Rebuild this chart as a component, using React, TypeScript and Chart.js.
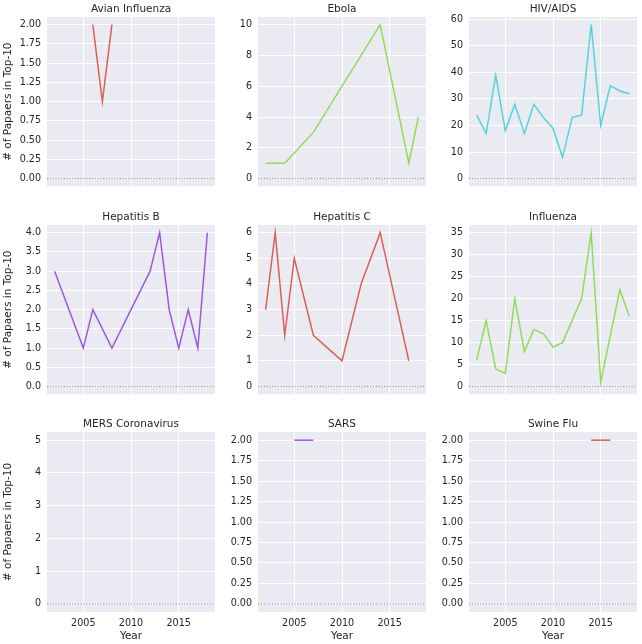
import React, { useEffect, useRef } from "react";
import { Chart, registerables } from "chart.js";
Chart.register(...registerables);

const avianYears = [2006, 2007, 2008];
const avianPapers = [2, 1, 2];
const ebolaYears = [2002, 2004, 2007, 2014, 2017, 2018];
const ebolaPapers = [1, 1, 3, 10, 1, 4];
const hivYears = [2002, 2003, 2004, 2005, 2006, 2007, 2008, 2009, 2010, 2011, 2012, 2013, 2014, 2015, 2016, 2017, 2018];
const hivPapers = [24, 17, 39, 18, 28, 17, 28, 23, 19, 8, 23, 24, 58, 20, 35, 33, 32];
const hepBYears = [2002, 2005, 2006, 2008, 2012, 2013, 2014, 2015, 2016, 2017, 2018];
const hepBPapers = [3, 1, 2, 1, 3, 4, 2, 1, 2, 1, 4];
const hepCYears = [2002, 2003, 2004, 2005, 2007, 2010, 2012, 2014, 2017];
const hepCPapers = [3, 6, 2, 5, 2, 1, 4, 6, 1];
const fluYears = [2002, 2003, 2004, 2005, 2006, 2007, 2008, 2009, 2010, 2011, 2013, 2014, 2015, 2017, 2018];
const fluPapers = [6, 15, 4, 3, 20, 8, 13, 12, 9, 10, 20, 35, 1, 22, 16];
const mersYears: number[] = [];
const mersPapers: number[] = [];
const sarsYears = [2005, 2007];
const sarsPapers = [2, 2];
const swineYears = [2014, 2016];
const swinePapers = [2, 2];

const yearTicks = [2005, 2010, 2015];
const quarterTicks = [0, 0.25, 0.5, 0.75, 1, 1.25, 1.5, 1.75, 2];
const ebolaTicks = [0, 2, 4, 6, 8, 10];
const hivTicks = [0, 10, 20, 30, 40, 50, 60];
const hepBTicks = [0, 0.5, 1, 1.5, 2, 2.5, 3, 3.5, 4];
const hepCTicks = [0, 1, 2, 3, 4, 5, 6];
const fluTicks = [0, 5, 10, 15, 20, 25, 30, 35];
const mersTicks = [0, 1, 2, 3, 4, 5];

const RED = "#db5f57";
const GREEN = "#91db57";
const CYAN = "#57d3db";
const PURPLE = "#a157db";
const TEXT = "#262626";
const FONT = "'DejaVu Sans', sans-serif";

type PanelDef = {
  title: string;
  years: number[];
  papers: number[];
  color: string;
  yMin: number;
  yMax: number;
  yTicks: number[];
  decimals: number;
};

const panels: PanelDef[] = [
  { title: "Avian Influenza", years: avianYears, papers: avianPapers, color: RED, yMin: -0.1, yMax: 2.1, yTicks: quarterTicks, decimals: 2 },
  { title: "Ebola", years: ebolaYears, papers: ebolaPapers, color: GREEN, yMin: -0.5, yMax: 10.5, yTicks: ebolaTicks, decimals: 0 },
  { title: "HIV/AIDS", years: hivYears, papers: hivPapers, color: CYAN, yMin: -2.9, yMax: 60.9, yTicks: hivTicks, decimals: 0 },
  { title: "Hepatitis B", years: hepBYears, papers: hepBPapers, color: PURPLE, yMin: -0.2, yMax: 4.2, yTicks: hepBTicks, decimals: 1 },
  { title: "Hepatitis C", years: hepCYears, papers: hepCPapers, color: RED, yMin: -0.3, yMax: 6.3, yTicks: hepCTicks, decimals: 0 },
  { title: "Influenza", years: fluYears, papers: fluPapers, color: GREEN, yMin: -1.75, yMax: 36.75, yTicks: fluTicks, decimals: 0 },
  { title: "MERS Coronavirus", years: mersYears, papers: mersPapers, color: CYAN, yMin: -0.25, yMax: 5.25, yTicks: mersTicks, decimals: 0 },
  { title: "SARS", years: sarsYears, papers: sarsPapers, color: PURPLE, yMin: -0.1, yMax: 2.1, yTicks: quarterTicks, decimals: 2 },
  { title: "Swine Flu", years: swineYears, papers: swinePapers, color: RED, yMin: -0.1, yMax: 2.1, yTicks: quarterTicks, decimals: 2 },
];

const PLOT_LEFTS = [47, 258, 469];
const PLOT_TOPS = [17, 225, 432];
const PLOT_W = 168;
const PLOT_H = 180;
const Y_BOX = 47;
const TITLE_BOX = 17;
const X_BOX = 31;

const bgPlugin = {
  id: "panelBg",
  beforeDraw(chart: any) {
    const { ctx, chartArea } = chart;
    ctx.save();
    ctx.fillStyle = "#eaeaf2";
    ctx.fillRect(chartArea.left, chartArea.top, chartArea.right - chartArea.left, chartArea.bottom - chartArea.top);
    ctx.restore();
  },
  beforeDatasetsDraw(chart: any) {
    const { ctx, chartArea, scales } = chart;
    const y = scales.y.getPixelForValue(0);
    ctx.save();
    ctx.strokeStyle = "#8a8a8a";
    ctx.lineWidth = 1;
    ctx.setLineDash([1.2, 1.6]);
    ctx.beginPath();
    ctx.moveTo(chartArea.left, y);
    ctx.lineTo(chartArea.right, y);
    ctx.stroke();
    ctx.restore();
  },
};

function Panel({ def, index }: { def: PanelDef; index: number }) {
  const ref = useRef<HTMLCanvasElement>(null);
  const col = index % 3;
  const row = Math.floor(index / 3);
  const bottomRow = row === 2;
  const firstCol = col === 0;
  const width = Y_BOX + PLOT_W + Y_BOX;
  const height = TITLE_BOX + PLOT_H + (bottomRow ? X_BOX : 1);
  const left = PLOT_LEFTS[col] - Y_BOX;
  const top = PLOT_TOPS[row] - TITLE_BOX;

  useEffect(() => {
    const canvas = ref.current;
    if (!canvas) return;
    const chart = new Chart(canvas, {
      type: "line",
      data: {
        datasets: [
          {
            data: def.years.map((yr, i) => ({ x: yr, y: def.papers[i] })),
            borderColor: def.color,
            backgroundColor: def.color,
            borderWidth: 1.5,
            pointRadius: 0,
            tension: 0,
            fill: false,
            yAxisID: "y",
          },
        ],
      },
      options: {
        animation: false,
        responsive: false,
        devicePixelRatio: 1,
        layout: { padding: 0 },
        plugins: {
          legend: { display: false },
          tooltip: { enabled: false },
          title: {
            display: true,
            text: def.title,
            color: TEXT,
            font: { family: FONT, size: 10.5, weight: "normal", lineHeight: 1.2 },
            padding: { top: 3, bottom: 1.4 },
          },
        },
        scales: {
          x: {
            type: "linear",
            min: 2001.2,
            max: 2018.8,
            border: { display: false },
            grid: { color: "#ffffff", lineWidth: 1, drawTicks: false },
            ticks: {
              display: bottomRow,
              color: TEXT,
              padding: 6,
              maxRotation: 0,
              font: { family: FONT, size: 9.6 },
              callback: (v: any) => String(v),
            },
            title: {
              display: bottomRow,
              text: "Year",
              color: TEXT,
              font: { family: FONT, size: 10.5, lineHeight: 1.2 },
              padding: { top: 0, bottom: 0 },
            },
            afterBuildTicks: (scale: any) => {
              scale.ticks = yearTicks.map((v) => ({ value: v }));
            },
            afterFit: (scale: any) => {
              scale.height = bottomRow ? X_BOX : 0;
            },
          },
          y: {
            type: "linear",
            position: "left",
            min: def.yMin,
            max: def.yMax,
            border: { display: false },
            grid: { color: "#ffffff", lineWidth: 1, drawTicks: false },
            ticks: {
              color: TEXT,
              padding: 6,
              font: { family: FONT, size: 9.6 },
              callback: (v: any) => Number(v).toFixed(def.decimals),
            },
            title: {
              display: firstCol,
              text: "# of Papaers in Top-10",
              color: TEXT,
              font: { family: FONT, size: 10.5, lineHeight: 1.2 },
              padding: { top: 2, bottom: 0 },
            },
            afterBuildTicks: (scale: any) => {
              scale.ticks = def.yTicks.map((v) => ({ value: v }));
            },
            afterFit: (scale: any) => {
              scale.width = Y_BOX;
            },
          },
          spacer: {
            type: "linear",
            position: "right",
            display: true,
            border: { display: false },
            grid: { display: false, drawTicks: false },
            ticks: { display: false },
            afterFit: (scale: any) => {
              scale.width = Y_BOX;
            },
          },
        },
      },
      plugins: [bgPlugin],
    } as any);
    return () => chart.destroy();
  }, []);

  return (
    <canvas
      ref={ref}
      width={width}
      height={height}
      style={{ position: "absolute", left, top, width, height }}
    />
  );
}

export default function App() {
  return (
    <div
      style={{
        position: "fixed",
        left: 0,
        top: 0,
        width: 642,
        height: 644,
        overflow: "hidden",
        background: "#ffffff",
      }}
    >
      {panels.map((p, i) => (
        <Panel key={p.title} def={p} index={i} />
      ))}
    </div>
  );
}
